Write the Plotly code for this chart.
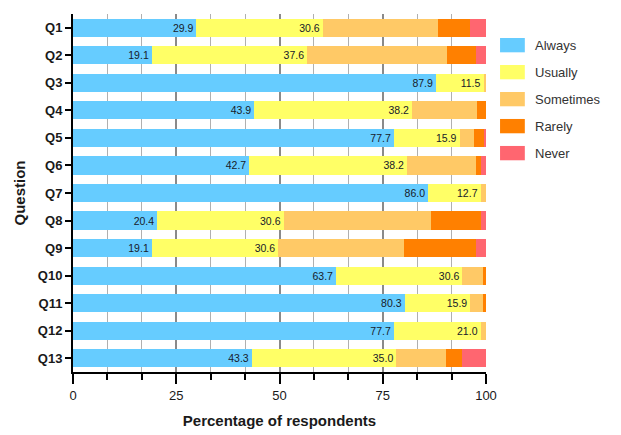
import plotly.graph_objects as go

questions = ["Q1", "Q2", "Q3", "Q4", "Q5", "Q6", "Q7", "Q8", "Q9", "Q10", "Q11", "Q12", "Q13"]
series_names = ["Always", "Usually", "Sometimes", "Rarely", "Never"]
always = [29.9, 19.1, 87.9, 43.9, 77.7, 42.7, 86.0, 20.4, 19.1, 63.7, 80.3, 77.7, 43.3]
usually = [30.6, 37.6, 11.5, 38.2, 15.9, 38.2, 12.7, 30.6, 30.6, 30.6, 15.9, 21.0, 35.0]
sometimes = [27.8, 33.8, 0.6, 15.6, 3.6, 16.6, 1.3, 35.6, 30.5, 5.0, 3.1, 1.3, 11.9]
rarely = [7.8, 7.0, 0.0, 2.3, 2.4, 1.4, 0.0, 12.3, 17.3, 0.7, 0.7, 0.0, 3.9]
never = [3.9, 2.5, 0.0, 0.0, 0.4, 1.1, 0.0, 1.1, 2.5, 0.0, 0.0, 0.0, 5.9]
colors = ["#66CCFF", "#FFFF66", "#FFC966", "#FF8000", "#FF6670"]
labelled = [True, True, False, False, False]

values = [always, usually, sometimes, rarely, never]
FONT = "Liberation Sans, Arial"

fig = go.Figure()
for name, vals, col, lab in zip(series_names, values, colors, labelled):
    fig.add_trace(go.Bar(
        y=questions, x=vals, name=name, orientation="h",
        marker=dict(color=col, line=dict(width=0)),
        width=0.66,
        text=[f"{v:.1f}" for v in vals] if lab else None,
        textposition="inside" if lab else "none",
        insidetextanchor="end",
        textfont=dict(size=10.5, color="#17202a", family=FONT),
        constraintext="none",
        showlegend=False,
        hoverinfo="x+y+name",
    ))

# manual legend (swatches + labels)
x0, x1, xt = 1.034, 1.094, 1.115
ytop, step, h = 0.913, 0.0754, 0.040
for i, (name, col) in enumerate(zip(series_names, colors)):
    yc = ytop - i * step
    fig.add_shape(type="rect", xref="paper", yref="paper",
                  x0=x0, x1=x1, y0=yc - h / 2, y1=yc + h / 2,
                  fillcolor=col, line=dict(width=0))
    fig.add_annotation(xref="paper", yref="paper", x=xt, y=yc, text=name,
                       showarrow=False, xanchor="left", yanchor="middle",
                       font=dict(size=13, color="#333333", family=FONT))

fig.update_layout(
    barmode="stack",
    width=613, height=427,
    margin=dict(l=65, r=135, t=6, b=63),
    plot_bgcolor="white", paper_bgcolor="white",
    font=dict(family=FONT, color="#1a1a1a"),
    bargap=0.34,
)
fig.update_xaxes(
    automargin=False,
    range=[0, 100], tickvals=[0, 25, 50, 75, 100],
    showgrid=True, gridcolor="#8a8a8a", gridwidth=1.5,
    minor=dict(dtick=25 / 3, tick0=0, showgrid=True, gridcolor="#b0b0b0", gridwidth=1,
               ticks="outside", ticklen=6, tickwidth=2, tickcolor="black"),
    ticks="outside", ticklen=10, tickwidth=2, tickcolor="black",
    showline=True, linecolor="black", linewidth=2,
    tickfont=dict(size=13, family=FONT, color="#1a1a1a"),
    title=dict(text="<b>Percentage of respondents</b>", font=dict(size=15, color="#1a1a1a"), standoff=14),
    zeroline=False,
)
fig.update_yaxes(
    automargin=False,
    autorange="reversed",
    ticks="outside", ticklen=6, tickwidth=2, tickcolor="black",
    showline=True, linecolor="black", linewidth=2,
    tickfont=dict(size=13, family=FONT, color="#1a1a1a"),
    tickprefix="<b>", ticksuffix="</b>",
    title=dict(text="<b>Question</b>", font=dict(size=15, color="#1a1a1a"), standoff=9),
    showgrid=False,
)

fig.write_html("out.html")
